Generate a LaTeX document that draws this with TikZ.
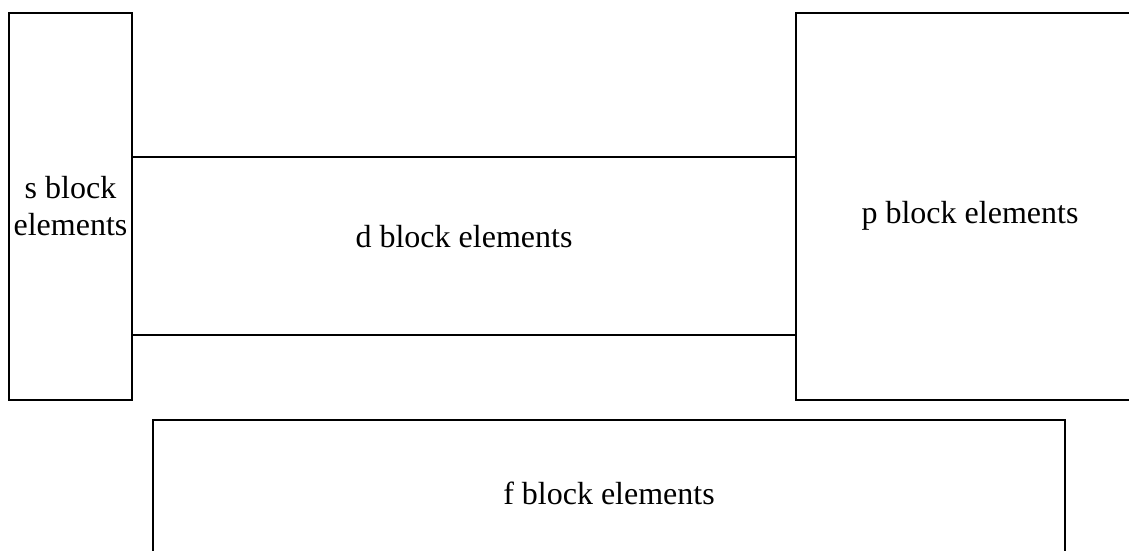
\documentclass[tikz,border=0pt]{standalone}
\usepackage{fontspec}
\setmainfont{Liberation Serif}
\begin{document}
\begin{tikzpicture}[x=0.5pt,y=-0.5pt,
        block/.style={draw,line width=1pt,inner sep=0pt,align=center,
            font=\fontsize{16}{18.5}\selectfont}]
        \useasboundingbox (0,0) rectangle (1129,551);
        \clip (0,0) rectangle (1129,551);
        % \node[block,minimum width=60pt] (sblock) at (70.5,206.5) {s block\\elements};
        \node[block,minimum width=61.5pt,minimum height=193.5pt] (sblock) at (70.5,206.5) {s block\\elements};
        \node[block,minimum width=332pt,minimum height=89pt,text depth=10pt] (dblock) at (464,246) {d block elements};
        \node[block,minimum width=174pt,minimum height=193.5pt,text height=20pt] (pblock) at (970,206.5) {p block elements};
        \node[block,minimum width=456pt,minimum height=73pt] (fblock) at (609,493) {f block elements};
    \end{tikzpicture}
\end{document}
